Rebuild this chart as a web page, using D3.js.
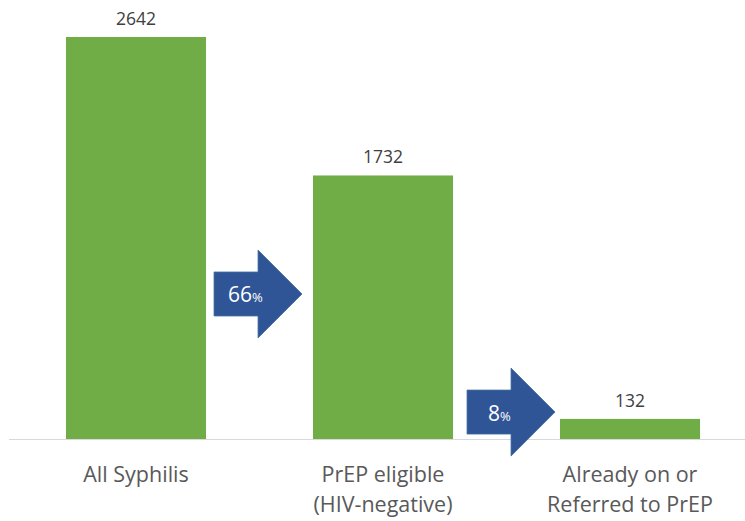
<!DOCTYPE html>
<html lang="en">
<head>
  <meta charset="utf-8">
  <script src="https://d3js.org/d3.v7.min.js"></script>
  <style>
  body { margin: 0; background: #fff; }
  text { font-family: "Open Sans", sans-serif; }
  </style>
</head>
<body>
<script>
  // chart data
  var categories = [["All Syphilis"], ["PrEP eligible", "(HIV-negative)"], ["Already on or", "Referred to PrEP"]];
  var values = [2642, 1732, 132];
  var stepLabels = ["66", "8"];   // conversion percentages between bars
  var stepCenters = [953, 177];   // vertical centre of each arrow, in value units

  var w = 745, h = 521;
  var baseY = 439;

  var svg = d3.select('body').append('svg')
    .attr('width', w)
    .attr('height', h);

  var x = d3.scaleBand()
    .domain(d3.range(values.length))
    .range([12.5, 753.5])
    .paddingInner(0.433)
    .paddingOuter(0.2165);

  var y = d3.scaleLinear()
    .domain([0, 2642])
    .range([baseY, 37]);

  // bars
  svg.selectAll('rect.bar')
    .data(values)
    .enter()
    .append('rect')
    .attr('class', 'bar')
    .attr('x', function (d, i) { return x(i); })
    .attr('y', function (d) { return y(d); })
    .attr('width', x.bandwidth())
    .attr('height', function (d) { return baseY - y(d); })
    .attr('fill', '#70ad47');

  // axis line
  svg.append('line')
    .attr('x1', 9).attr('x2', 745)
    .attr('y1', baseY + 0.5).attr('y2', baseY + 0.5)
    .attr('stroke', '#d9d9d9')
    .attr('stroke-width', 1);

  // value labels
  svg.selectAll('text.val')
    .data(values)
    .enter()
    .append('text')
    .attr('class', 'val')
    .attr('x', function (d, i) { return x(i) + x.bandwidth() / 2; })
    .attr('y', function (d) { return y(d) - 12; })
    .attr('text-anchor', 'middle')
    .attr('font-size', 17.5)
    .attr('fill', '#404040')
    .text(function (d) { return d; });

  // category labels, one text per line
  var catLines = [];
  categories.forEach(function (lines, i) {
    lines.forEach(function (t, j) { catLines.push({ t: t, i: i, j: j }); });
  });
  svg.selectAll('text.cat')
    .data(catLines)
    .enter()
    .append('text')
    .attr('class', 'cat')
    .attr('text-anchor', 'middle')
    .attr('font-size', 21.5)
    .attr('fill', '#595959')
    .attr('x', function (d) { return x(d.i) + x.bandwidth() / 2; })
    .attr('y', function (d) { return 482 + d.j * 29.5; })
    .text(function (d) { return d.t; });

  // arrows between bars
  var gaps = [8, 14];
  var arrows = svg.selectAll('g.arrow')
    .data(stepLabels)
    .enter()
    .append('g')
    .attr('class', 'arrow')
    .attr('transform', function (d, i) {
      var left = x(i) + x.bandwidth() + gaps[i];
      return 'translate(' + left + ',' + y(stepCenters[i]) + ')';
    });

  arrows.append('path')
    .attr('d', 'M0,-22 L44,-22 L44,-44 L88,0 L44,44 L44,22 L0,22 Z')
    .attr('fill', '#2f5597')
    .attr('stroke', '#41719c')
    .attr('stroke-width', 0.8);

  var lbl = arrows.append('text')
    .attr('x', function (d) { return d.length > 1 ? 14 : 21; })
    .attr('y', 8.5)
    .attr('fill', '#fff');
  lbl.append('tspan').attr('font-size', 21).text(function (d) { return d; });
  lbl.append('tspan').attr('font-size', 13).text('%');
</script>
</body>
</html>
